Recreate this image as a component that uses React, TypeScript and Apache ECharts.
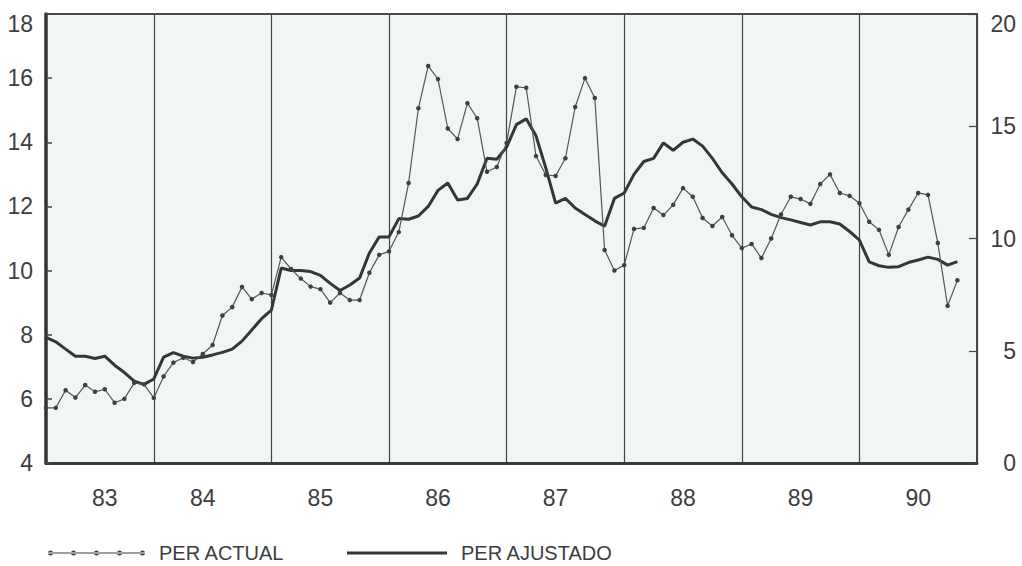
import { useEffect, useRef } from 'react';
import * as echarts from 'echarts';

// Monthly categories: Feb 1983 .. Jan 1991
const START_YEAR = 1983;
const START_MONTH = 2;
const MONTH_COUNT = 96;
const months: string[] = [];
for (let k = 0; k < MONTH_COUNT; k++) {
  const m = START_MONTH - 1 + k;
  const y = START_YEAR + Math.floor(m / 12);
  const mm = (m % 12) + 1;
  months.push(`${String(y % 100).padStart(2, '0')}-${String(mm).padStart(2, '0')}`);
}

// Year label positions (month where each year label sits)
const yearLabelAt = ['83-08', '84-06', '85-06', '86-06', '87-06', '88-07', '89-07', '90-07'];

const perActual = [
  5.72, 5.72, 6.27, 6.04, 6.43, 6.22, 6.3, 5.88, 6.0, 6.5, 6.45,
  6.03, 6.7, 7.13, 7.28, 7.15, 7.4, 7.68, 8.6, 8.86, 9.49, 9.11, 9.3,
  9.24, 10.42, 10.05, 9.75, 9.5, 9.42, 9.0, 9.3, 9.08, 9.08, 9.93, 10.49,
  10.6, 11.2, 12.73, 15.06, 16.38, 15.97, 14.43, 14.1, 15.22, 14.75, 13.08, 13.23,
  13.98, 15.73, 15.7, 13.57, 12.98, 12.95, 13.5, 15.1, 16.0, 15.38, 10.64, 10.0,
  10.17, 11.3, 11.33, 11.95, 11.73, 12.05, 12.57, 12.3, 11.64, 11.39, 11.67, 11.1,
  10.7, 10.83, 10.39, 11.0, 11.75, 12.3, 12.23, 12.08, 12.7, 13.0, 12.42, 12.33,
  12.1, 11.52, 11.27, 10.49, 11.36, 11.9, 12.42, 12.36, 10.86, 8.9, 9.7,
];

const perAjustado = [
  7.92, 7.78, 7.55, 7.33, 7.33, 7.26, 7.33, 7.05, 6.82, 6.55, 6.45,
  6.62, 7.3, 7.44, 7.33, 7.27, 7.3, 7.37, 7.45, 7.55, 7.8, 8.15, 8.5,
  8.77, 10.08, 10.0, 10.0, 9.97, 9.85, 9.6, 9.38, 9.55, 9.77, 10.55, 11.05,
  11.05, 11.62, 11.6, 11.7, 12.0, 12.5, 12.73, 12.2, 12.25, 12.7, 13.5, 13.47,
  13.85, 14.55, 14.73, 14.2, 13.2, 12.1, 12.25, 11.95, 11.75, 11.55, 11.38, 12.25,
  12.42, 13.0, 13.4, 13.5, 13.98, 13.75, 14.0, 14.1, 13.88, 13.5, 13.05, 12.7,
  12.3, 11.98, 11.9, 11.75, 11.65, 11.58, 11.5, 11.42, 11.52, 11.52, 11.45, 11.22,
  10.95, 10.27, 10.15, 10.1, 10.12, 10.25, 10.33, 10.42, 10.35, 10.17, 10.28,
];

const leftAxis = { min: 4, max: 18, interval: 2 };
const rightAxis = { min: 0, max: 20, interval: 5 };

const FONT = '"Liberation Sans", Arial, sans-serif';
const TEXT = '#3d3d3d';

const dotsIcon =
  'path://M0 2H97V3H0Z' +
  [2.5, 25.5, 48.5, 71.5, 94.5]
    .map((cx) => `M${cx - 2.5} 2.5a2.5 2.5 0 1 0 5 0a2.5 2.5 0 1 0 -5 0Z`)
    .join('');

export default function App() {
  const ref = useRef<HTMLDivElement>(null);
  useEffect(() => {
    if (!ref.current) return;
    const chart = echarts.init(ref.current, undefined, { renderer: 'svg' });
    const topRich = {
      top: { fontSize: 23, fontFamily: FONT, color: TEXT, padding: [20, 0, 0, 0] },
    };
    chart.setOption({
      animation: false,
      backgroundColor: '#ffffff',
      grid: {
        left: 46,
        right: 45,
        top: 14,
        bottom: 103,
        show: true,
        backgroundColor: '#f1f5f5',
        borderColor: '#4a4a4a',
        borderWidth: 2,
      },
      legend: [
        {
          left: 48,
          top: 542,
          padding: 0,
          itemWidth: 97,
          itemHeight: 5,
          data: [{ name: 'PER ACTUAL', icon: dotsIcon }],
          textStyle: { fontSize: 20, fontFamily: FONT, color: TEXT, padding: [0, 0, 0, 9], lineHeight: 22 },
        },
        {
          left: 347,
          top: 542,
          padding: 0,
          itemWidth: 100,
          itemHeight: 3,
          data: [{ name: 'PER AJUSTADO', icon: 'rect' }],
          textStyle: { fontSize: 20, fontFamily: FONT, color: TEXT, padding: [0, 0, 0, 9], lineHeight: 22 },
        },
      ],
      xAxis: {
        type: 'category',
        data: months,
        boundaryGap: false,
        axisLine: { show: true, lineStyle: { color: '#3a3a3a', width: 3 } },
        axisTick: { show: false },
        axisLabel: {
          interval: (_i: number, v: string) => yearLabelAt.includes(v),
          formatter: (v: string) => v.slice(0, 2),
          fontSize: 23,
          fontFamily: FONT,
          color: TEXT,
          margin: 23,
        },
        splitLine: {
          show: true,
          interval: (_i: number, v: string) => v.endsWith('-01'),
          lineStyle: { color: '#444', width: 1.2 },
        },
      },
      yAxis: [
        {
          type: 'value',
          position: 'left',
          ...leftAxis,
          axisLine: { show: true, lineStyle: { color: '#333', width: 3.5 } },
          axisTick: { show: true, inside: true, length: 6, lineStyle: { color: '#444', width: 1.5 } },
          splitLine: { show: false },
          axisLabel: {
            fontSize: 23,
            fontFamily: FONT,
            color: TEXT,
            margin: 13,
            formatter: (v: number) => (v === leftAxis.max ? `{top|${v}}` : `${v}`),
            rich: topRich,
          },
        },
        {
          type: 'value',
          position: 'right',
          ...rightAxis,
          axisLine: { show: true, lineStyle: { color: '#444', width: 1.5 } },
          axisTick: { show: true, inside: true, length: 8, lineStyle: { color: '#444', width: 1.2 } },
          splitLine: { show: false },
          axisLabel: {
            fontSize: 23,
            fontFamily: FONT,
            color: TEXT,
            margin: 39,
            align: 'right',
            formatter: (v: number) => (v === rightAxis.max ? `{top|${v}}` : `${v}`),
            rich: topRich,
          },
        },
      ],
      series: [
        {
          name: 'PER ACTUAL',
          type: 'line',
          yAxisIndex: 0,
          data: perActual,
          symbol: 'circle',
          symbolSize: 4.5,
          showAllSymbol: true,
          itemStyle: { color: '#3f3f3f' },
          lineStyle: { color: '#555', width: 1.2 },
          z: 3,
        },
        {
          name: 'PER AJUSTADO',
          type: 'line',
          yAxisIndex: 0,
          data: perAjustado,
          symbol: 'none',
          itemStyle: { color: '#363636' },
          lineStyle: { color: '#363636', width: 3 },
          z: 2,
        },
      ],
    });
    return () => chart.dispose();
  }, []);
  return (
    <div
      ref={ref}
      style={{ position: 'fixed', left: 0, top: 0, width: 1022, height: 566, background: '#fff' }}
    />
  );
}
